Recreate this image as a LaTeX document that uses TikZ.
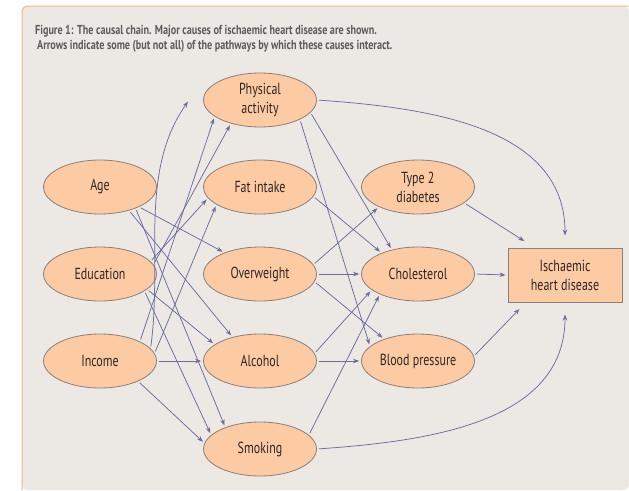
\documentclass[tikz,border=0pt]{standalone}
\usepackage{fontspec}
\setmainfont{PT Sans}[FakeStretch=0.75]
\newfontfamily\titlefont{PT Sans}[FakeStretch=0.78]
\usetikzlibrary{shapes.geometric,arrows.meta}
\definecolor{bgc}{HTML}{ECE9E5}
\definecolor{nodefill}{HTML}{FCCBA4}
\definecolor{nodeedge}{HTML}{8E7E7A}
\definecolor{arrowc}{HTML}{6A6C9C}
\definecolor{framec}{HTML}{F0B48C}
\definecolor{titlec}{HTML}{5C5C5C}
\definecolor{textc}{HTML}{2E2626}
\tikzset{
  ell/.style={ellipse, draw=nodeedge, fill=nodefill, line width=0.8pt,
    minimum width=113pt, minimum height=54pt, inner sep=0pt, align=center,
    text=textc, font=\fontsize{16}{19}\selectfont},
  box/.style={rectangle, draw=nodeedge, fill=nodefill, line width=1pt,
    minimum width=114pt, minimum height=54pt, inner sep=0pt, align=center,
    text=textc, font=\fontsize{16}{19}\selectfont},
  ttl/.style={anchor=base west, text=titlec, inner sep=0pt,
    font=\titlefont\bfseries\fontsize{13}{15}\selectfont},
  arr/.style={draw=arrowc, line width=0.75pt, -{Stealth[length=6pt,width=4.5pt]},
    shorten <=2pt, shorten >=2pt}
}
\begin{document}
\begin{tikzpicture}[x=1pt,y=-1pt]
\useasboundingbox (0,0) rectangle (629,490);
\fill[white] (0,0) rectangle (629,490);
\fill[bgc,rounded corners=6pt] (22,490) -- (22,6) -- (629,6) -- (629,490) -- cycle;
\draw[framec,line width=1pt,rounded corners=6pt] (22,490) -- (22,6) -- (629,6);

\node[ttl] (title1) at (35,34)
  {Figure 1: The causal chain. Major causes of ischaemic heart disease are shown.};
\node[ttl] (title2) at (37,49)
  {Arrows indicate some (but not all) of the pathways by which these causes interact.};

\node[ell] (pa) at (260,100) {Physical\\activity};
\node[ell] (age) at (100,187) {Age};
\node[ell] (fat) at (260,187) {Fat intake};
\node[ell] (edu) at (100,274) {Education};
\node[ell] (over) at (260,274) {Overweight};
\node[ell] (inc) at (100,361) {Income};
\node[ell] (alc) at (260,361) {Alcohol};
\node[ell] (smk) at (260,449) {Smoking};
\node[ell] (t2d) at (418,187) {Type 2\\diabetes};
\node[ell] (chol) at (418,274) {Cholesterol};
\node[ell] (bp) at (418,361) {Blood pressure};
\node[box] (ihd) at (565,275) {Ischaemic\\heart disease};

% left group
\draw[arr] (age.-27) -- (over.149);
\draw[arr] (age.-39) -- (alc.139);
\draw[arr] (age.-31) -- (smk.148);
\draw[arr] (edu.-18) -- (alc.160);
\draw[arr] (edu.-21) -- (smk.164);
\draw[arr] (edu.10) -- (pa.-141);
\draw[arr] (edu.14) -- (fat.-168);
\draw[arr] (inc.14) to[out=82,in=-125,looseness=0.9] ([xshift=-14pt]pa.west);
\draw[arr] (inc.east) -- (alc.west);
\draw[arr] (inc.-28) -- (smk.174);
\draw[arr] (inc.26) -- (pa.-160);
\draw[arr] (inc.8) -- (fat.-158);

% middle group
\draw[arr] (pa.-14) -- (chol.137);
\draw[arr] (pa.-26) -- (bp.163);
\draw[arr] (pa.east) to[out=-4,in=90] ([yshift=10pt]ihd.north);
\draw[arr] (fat.-10) -- (chol.150);
\draw[arr] (over.10) -- (t2d.-153);
\draw[arr] (over.east) -- (chol.west);
\draw[arr] (over.-8) -- (bp.147);
\draw[arr] (alc.8) -- (chol.-161);
\draw[arr] (alc.east) -- (bp.west);
\draw[arr] (smk.16) -- (chol.-152);
\draw[arr] (smk.east) to[out=4,in=-90] ([yshift=-10pt]ihd.south);

% right group
\draw[arr, shorten >=12pt] (t2d.-19) -- (ihd.138);
\draw[arr] (chol.east) -- (ihd.west);
\draw[arr, shorten >=9pt] (bp.5) -- (ihd.-145);
\end{tikzpicture}
\end{document}
